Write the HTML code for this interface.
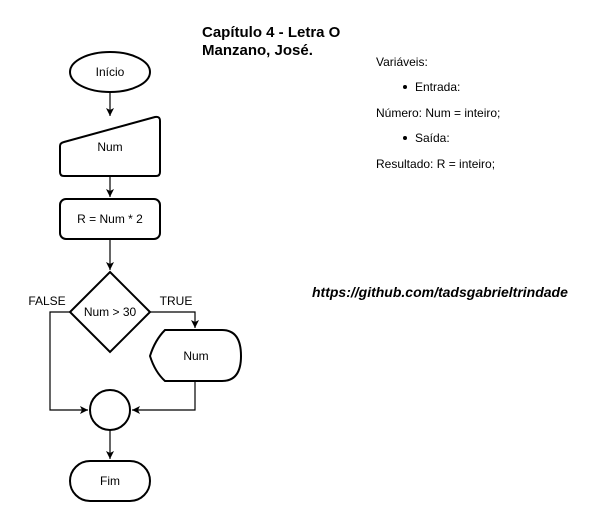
<!DOCTYPE html>
<html><head><meta charset="utf-8"><style>
html,body{margin:0;padding:0;background:#fff;width:600px;height:523px;overflow:hidden}
svg{display:block}
text{font-family:"Liberation Sans",Arial,sans-serif;fill:#000}
</style></head><body>
<svg width="600" height="523" viewBox="0 0 600 523">
<defs><marker id="a" markerWidth="10" markerHeight="10" refX="8" refY="5" orient="auto" markerUnits="userSpaceOnUse"><path d="M0,1 L8,5 L0,9 L2,5 Z" fill="#000"/></marker></defs>
<g fill="none" stroke="#000" stroke-width="2">
<ellipse cx="110" cy="72" rx="40" ry="20"/>
<path d="M64,142 L155,117 Q160,116 160,121 L160,172 Q160,176 156,176 L64,176 Q60,176 60,172 L60,146 Q60,143 64,142 Z"/>
<rect x="60" y="199" width="100" height="40" rx="6"/>
<path d="M110,272 L150,312 L110,352 L70,312 Z"/>
<path d="M165,330 L222,330 Q241,330 241,356 Q241,381 222,381 L165,381 Q155,372 150,356 Q155,340 165,330 Z"/>
<circle cx="110" cy="410" r="20"/>
<rect x="70" y="461" width="80" height="40" rx="20"/>
</g>
<g fill="none" stroke="#000" stroke-width="1.2">
<path d="M110,92 L110,116" marker-end="url(#a)"/>
<path d="M110,176 L110,197" marker-end="url(#a)"/>
<path d="M110,239 L110,270" marker-end="url(#a)"/>
<path d="M150,312 L195,312 L195,328" marker-end="url(#a)"/>
<path d="M195,381 L195,410 L132,410" marker-end="url(#a)"/>
<path d="M70,312 L50,312 L50,410 L88,410" marker-end="url(#a)"/>
<path d="M110,430 L110,459" marker-end="url(#a)"/>
</g>
<g font-size="12" text-anchor="middle">
<text x="110" y="76">Início</text>
<text x="110" y="151">Num</text>
<text x="110" y="223">R = Num * 2</text>
<text x="110" y="316">Num &gt; 30</text>
<text x="196" y="360">Num</text>
<text x="110" y="485">Fim</text>
<text x="47" y="305">FALSE</text>
<text x="176" y="305">TRUE</text>
</g>
<g font-size="15" font-weight="bold">
<text x="202" y="37">Capítulo 4 - Letra O</text>
<text x="202" y="55">Manzano, José.</text>
</g>
<g font-size="12">
<text x="376" y="66">Variáveis:</text>
<circle cx="405" cy="87" r="2" fill="#000"/>
<text x="415" y="91">Entrada:</text>
<text x="376" y="117">Número: Num = inteiro;</text>
<circle cx="405" cy="138" r="2" fill="#000"/>
<text x="415" y="142">Saída:</text>
<text x="376" y="168">Resultado: R = inteiro;</text>
</g>
<text x="312" y="297" font-size="14" font-weight="bold" font-style="italic">https://github.com/tadsgabrieltrindade</text>
</svg>
</body></html>
